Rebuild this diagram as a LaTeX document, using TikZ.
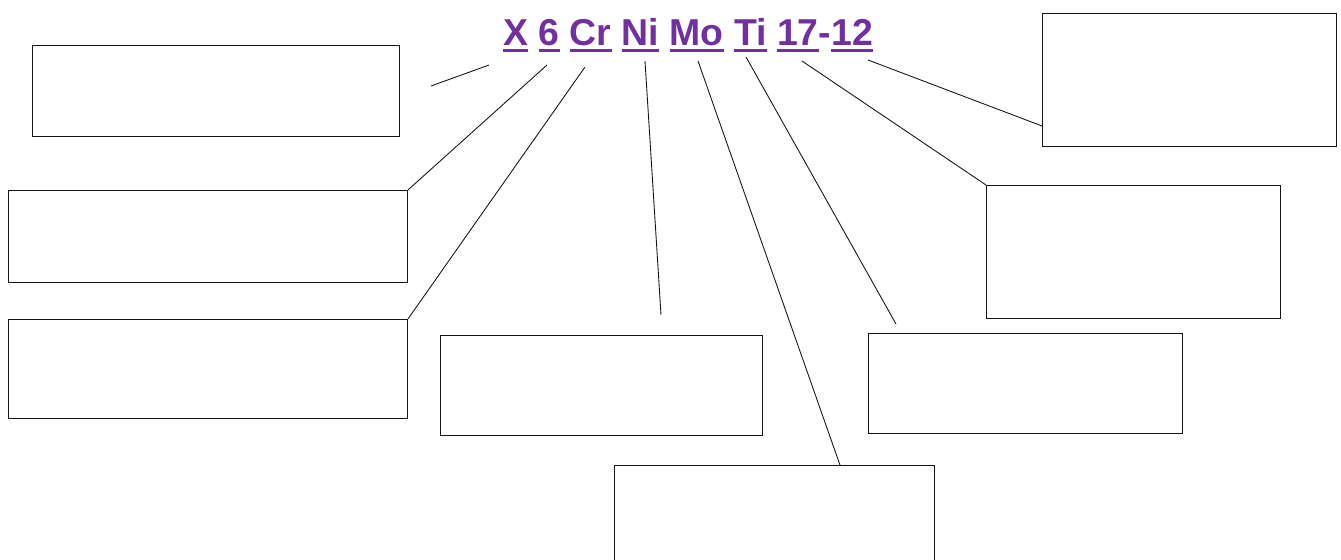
\documentclass[tikz,border=0pt]{standalone}
\usepackage{fontspec}
\setmainfont{Liberation Sans}
\usetikzlibrary{positioning,calc}
\definecolor{colViolet}{RGB}{112,48,160}
\definecolor{colTrait}{RGB}{20,20,20}
% soulignement epais sous chaque symbole
\newcommand\souligne[1]{\setbox0\hbox{#1}\rlap{\rule[-3.8pt]{\wd0}{1.7pt}}\box0\relax}

\begin{document}
\begin{tikzpicture}[x=0.02cm, y=-0.02cm,
    boite/.style={rectangle, draw=colTrait, line width=0.5pt, fill=white,
      anchor=north west, inner sep=0pt, outer sep=0pt},
    trait/.style={draw=colTrait, line width=0.5pt},
    titre/.style={anchor=base west, inner sep=0pt, text=colViolet,
      font=\fontsize{21.3pt}{24pt}\selectfont\bfseries}]
    \useasboundingbox (0,0) rectangle (1341,559);
    % designation de l'acier
    \node[titre] (desig) at (503,45)
      {\souligne{X} \souligne{6} \souligne{Cr} \souligne{Ni} \souligne{Mo}
       \souligne{Ti} \souligne{17}-\souligne{12}};
    % cases a remplir
    \node[boite, minimum width=7.36cm, minimum height=1.82cm] (b1) at (32,45) {};
    \node[boite, minimum width=8cm, minimum height=1.84cm] (b2) at (8,190) {};
    \node[boite, minimum width=8cm, minimum height=1.98cm] (b3) at (8,319) {};
    \node[boite, minimum width=6.44cm, minimum height=2cm] (b4) at (440,335) {};
    \node[boite, minimum width=6.4cm, minimum height=2cm] (b5) at (614,465) {};
    \node[boite, minimum width=6.28cm, minimum height=2cm] (b6) at (868,333) {};
    \node[boite, minimum width=5.88cm, minimum height=2.66cm] (b7) at (986,185) {};
    \node[boite, minimum width=5.88cm, minimum height=2.66cm] (b8) at (1042,13) {};
    % points sous les symboles
    \coordinate (pX) at (489,65);   \coordinate (aX) at (431,86);
    \coordinate (p6) at (547,65);   \coordinate (pCr) at (585,67);
    \coordinate (pNi) at (645,61);  \coordinate (aNi) at (661,315);
    \coordinate (pMo) at (698,61);  \coordinate (pTi) at (746,57);
    \coordinate (aTi) at (896,324); \coordinate (p17) at (802,61);
    \coordinate (p12) at (868,60);
    \draw[trait] (aX)--(pX);
    \draw[trait] (p6)--(b2.north east);
    \draw[trait] (pCr)--(b3.north east);
    \draw[trait] (pNi)--(aNi);
    \draw[trait] (pMo)--([xshift=4.52cm]b5.north west);
    \draw[trait] (pTi)--(aTi);
    \draw[trait] (p17)--(b7.north west);
    \draw[trait] (p12)--([yshift=0.4cm]b8.south west);
  \end{tikzpicture}
\end{document}
